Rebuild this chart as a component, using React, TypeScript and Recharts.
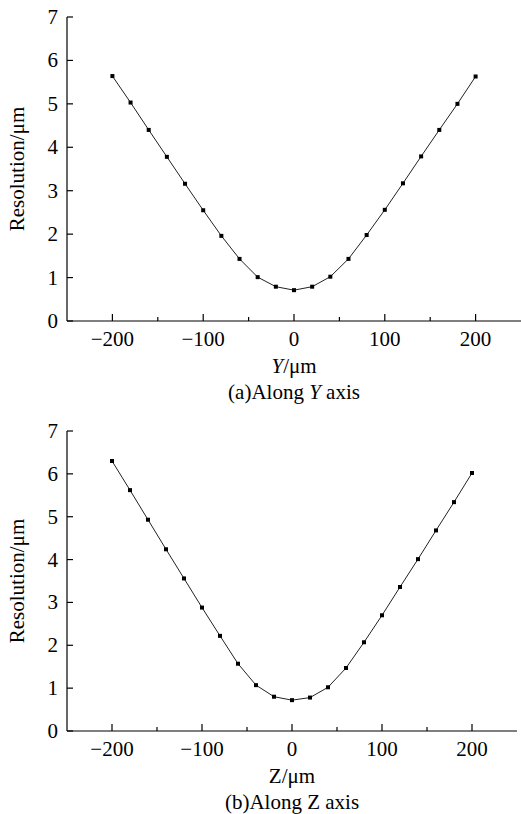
import React from 'react';
import { LineChart, Line, XAxis, YAxis } from 'recharts';

const positions = [-200, -180, -160, -140, -120, -100, -80, -60, -40, -20, 0, 20, 40, 60, 80, 100, 120, 140, 160, 180, 200];
const resolutionAlongY = [5.64, 5.03, 4.4, 3.78, 3.16, 2.55, 1.96, 1.43, 1.01, 0.79, 0.71, 0.79, 1.02, 1.43, 1.98, 2.56, 3.17, 3.79, 4.4, 5.0, 5.63];
const resolutionAlongZ = [6.3, 5.62, 4.93, 4.24, 3.56, 2.88, 2.22, 1.57, 1.07, 0.8, 0.72, 0.78, 1.02, 1.47, 2.07, 2.7, 3.36, 4.01, 4.68, 5.34, 6.02];
const xTicks = [-200, -150, -100, -50, 0, 50, 100, 150, 200];
const xLabelledTicks = [-200, -100, 0, 100, 200];
const yTicks = [0, 1, 2, 3, 4, 5, 6, 7];
const yAxisTitle = 'Resolution/μm';

const FONT = 'Liberation Serif, Times New Roman, Times, serif';
const FS = 21;
const textStyle = { fontFamily: FONT, fontSize: FS };

const dataY = positions.map((p, i) => ({ p, v: resolutionAlongY[i] }));
const dataZ = positions.map((p, i) => ({ p, v: resolutionAlongZ[i] }));

const fmt = (v: number) => (v < 0 ? '\u2212' + Math.abs(v) : String(v));

const XTick = (props: any) => {
  const { x, y, payload } = props;
  const major = xLabelledTicks.includes(payload.value);
  return (
    <g>
      <line x1={x} x2={x} y1={y} y2={y - (major ? 7 : 4)} stroke="#000" strokeWidth={1.2} />
      {major && (
        <text x={x} y={y + 25} textAnchor="middle" style={textStyle} fill="#000">
          {fmt(payload.value)}
        </text>
      )}
    </g>
  );
};

const YTick = (props: any) => {
  const { x, y, payload } = props;
  return (
    <g>
      <line x1={x} x2={x + 6} y1={y} y2={y} stroke="#000" strokeWidth={1.2} />
      <text x={x - 9} y={y + 7} textAnchor="end" style={textStyle} fill="#000">
        {payload.value}
      </text>
    </g>
  );
};

const Dot = (props: any) => {
  const { cx, cy, index } = props;
  if (cx == null || cy == null) return <g key={index} />;
  return <rect key={index} x={cx - 2} y={cy - 2} width={4} height={4} fill="#000" />;
};

const makeXLabel = (axisName: string, italic: boolean, caption: string) => (props: any) => {
  const vb = props.viewBox || {};
  const cx = vb.x + vb.width / 2;
  const y = vb.y;
  return (
    <g>
      <text x={cx} y={y + 52} textAnchor="middle" style={textStyle} fill="#000">
        <tspan fontStyle={italic ? 'italic' : 'normal'}>{axisName}</tspan>/μm
      </text>
      <text x={cx} y={y + 78} textAnchor="middle" style={textStyle} fill="#000">
        {caption}Along <tspan fontStyle={italic ? 'italic' : 'normal'}>{axisName}</tspan> axis
      </text>
    </g>
  );
};

const YLabel = (props: any) => {
  const vb = props.viewBox || {};
  const cx = 17;
  const cy = vb.y + vb.height / 2;
  return (
    <text
      x={cx}
      y={cy}
      transform={`rotate(-90, ${cx}, ${cy})`}
      textAnchor="middle"
      dominantBaseline="central"
      style={textStyle}
      fill="#000"
    >
      {yAxisTitle}
    </text>
  );
};

type PanelProps = {
  data: { p: number; v: number }[];
  height: number;
  marginTop: number;
  marginRight: number;
  xAxisHeight: number;
  axisName: string;
  italic: boolean;
  caption: string;
};

const Panel = ({ data, height, marginTop, marginRight, xAxisHeight, axisName, italic, caption }: PanelProps) => (
  <LineChart width={521} height={height} data={data} margin={{ top: marginTop, right: marginRight, left: 0, bottom: 0 }}>
    <XAxis
      dataKey="p"
      type="number"
      domain={[-250, 250]}
      ticks={xTicks}
      allowDataOverflow
      height={xAxisHeight}
      tickSize={0}
      tickMargin={0}
      tickLine={false}
      axisLine={{ stroke: '#000', strokeWidth: 1.2 }}
      tick={<XTick />}
      interval={0}
      label={{ content: makeXLabel(axisName, italic, caption) }}
    />
    <YAxis
      type="number"
      domain={[0, 7]}
      ticks={yTicks}
      width={67}
      tickSize={0}
      tickMargin={0}
      tickLine={false}
      axisLine={{ stroke: '#000', strokeWidth: 1.2 }}
      tick={<YTick />}
      interval={0}
      label={{ content: <YLabel /> }}
    />
    <Line
      type="linear"
      dataKey="v"
      stroke="#222"
      strokeWidth={1}
      dot={<Dot />}
      activeDot={false}
      isAnimationActive={false}
    />
  </LineChart>
);

export default function App() {
  return (
    <div style={{ position: 'absolute', left: 0, top: 0, width: 521, height: 814, background: '#fff', fontFamily: FONT }}>
      <div style={{ position: 'absolute', left: 0, top: 0 }}>
        <Panel data={dataY} height={406} marginTop={17} marginRight={0} xAxisHeight={85} axisName="Y" italic={true} caption="(a)" />
      </div>
      <div style={{ position: 'absolute', left: 0, top: 406 }}>
        <Panel data={dataZ} height={408} marginTop={25} marginRight={4} xAxisHeight={83} axisName="Z" italic={false} caption="(b)" />
      </div>
    </div>
  );
}
